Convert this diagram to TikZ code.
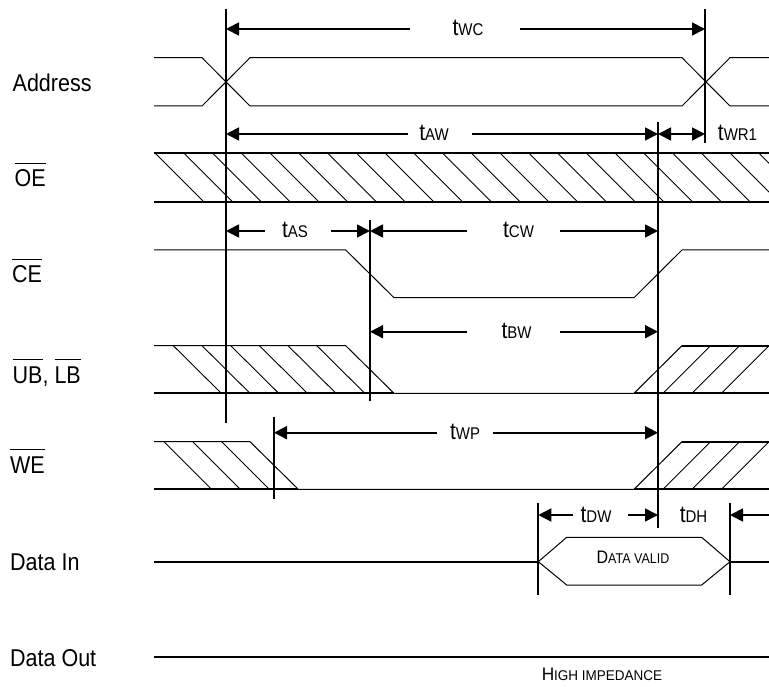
\documentclass[tikz,border=0pt]{standalone}
\usepackage{graphicx}
\usepackage{fontspec}
\setmainfont{Liberation Sans}
\usetikzlibrary{arrows.meta}
\newcommand\vs[1]{\scalebox{1}[1.13]{#1}}
\newcommand\tsub[1]{\vs{{\fontsize{21}{24}\selectfont t}{\fontsize{15}{18}\selectfont #1}}}
\newcommand\ovl[1]{\leavevmode\vbox{\hrule height 1.5pt\kern 6pt\hbox{\vs{#1}}}}
\newcommand\smc[2]{\vs{{\fontsize{16}{18}\selectfont #1}{\fontsize{12.5}{14}\selectfont #2}}}
\begin{document}
\begin{tikzpicture}[x=1pt,y=-1pt,
  thk/.style={line width=1.8pt},
  thn/.style={line width=1pt},
  hatch/.style={line width=0.9pt},
  dim/.style={line width=1.8pt,-{Triangle[length=13pt,width=13pt]}},
  dimboth/.style={line width=1.8pt,{Triangle[length=13pt,width=13pt]}-{Triangle[length=13pt,width=13pt]}},
  lbl/.style={anchor=base west,inner sep=0pt,font=\fontsize{21.5}{24}\selectfont},
  tlab/.style={anchor=base,inner sep=0pt},
  sclab/.style={anchor=base,inner sep=0pt}]
\useasboundingbox (0,0) rectangle (769,687);

% ---- signal labels
\node[lbl] (lAddr) at (12.5,91.5) {\vs{Address}};
\node[lbl] (lOE) at (14.5,187) {\ovl{OE}};
\node[lbl] (lCE) at (12,283) {\ovl{CE}};
\node[lbl] (lUB) at (12.5,383) {\ovl{UB}\vs{, }\ovl{LB}};
\node[lbl] (lWE) at (10,473) {\ovl{WE}};
\node[lbl] (lDI) at (10,570) {\vs{Data In}};
\node[lbl] (lDO) at (10,666) {\vs{Data Out}};

% ---- Address
\draw[thn] (154,57.7) -- (202,57.7) -- (250,106) -- (682,106) -- (730,57.7) -- (769,57.7);
\draw[thn] (154,106) -- (202,106) -- (250,57.7) -- (682,57.7) -- (730,106) -- (769,106);

% ---- OE
\begin{scope}
\clip (154,153) rectangle (769,201.7);
\foreach \k in {0,...,21} \draw[hatch] ({155+28.75*\k},153) -- ++(48.7,48.7);
\end{scope}
\draw[thk] (154,153) -- (769,153);
\draw[thk] (154,201.7) -- (769,201.7);

% ---- CE
\draw[thn] (154,250) -- (345.7,250) -- (394,297.7) -- (634,297.7) -- (682,250) -- (769,250);

% ---- UB, LB
\draw[thn] (154,345.7) -- (345.7,345.7) -- (394,393.3) -- (634,393.3) -- (682,345.7);
\draw[thk] (154,393.3) -- (394,393.3);
\foreach \x in {173.3,202,230.7,259.4,288,316.8} \draw[hatch] (\x,345.7) -- ++(48,47.6);
\draw[thk] (682,345.7) -- (769,345.7);
\draw[thk] (634,393.3) -- (769,393.3);
\foreach \x in {663,692,721.5} \draw[hatch] (\x,393.3) -- ++(47.6,-47.6);

% ---- WE
\draw[thn] (154,441.7) -- (250,441.7) -- (298.3,489.3) -- (634,489.3) -- (682,441.7);
\draw[thk] (154,489.3) -- (298.3,489.3);
\foreach \x in {164,192.7,221.7} \draw[hatch] (\x,441.7) -- ++(47.6,47.6);
\draw[thk] (682,441.7) -- (769,441.7);
\draw[thk] (634,489.3) -- (769,489.3);
\foreach \x in {663,692,721.5} \draw[hatch] (\x,489.3) -- ++(47.6,-47.6);

% ---- Data In
\draw[thk] (154,561.7) -- (538.3,561.7);
\draw[thk] (730,561.7) -- (769,561.7);
\draw[thn] (538.3,561.7) -- (566.7,537.3) -- (701.7,537.3) -- (730,561.7) -- (701.7,585) -- (566.7,585) -- cycle;
\node[sclab] (dv) at (633,563.3) {\smc{D}{ATA VALID}};

% ---- Data Out
\draw[thk] (154,656.7) -- (769,656.7);
\node[sclab] (hi) at (602,680.7) {\scalebox{1.08}[1]{\smc{H}{IGH IMPEDANCE}}};

% ---- reference verticals
\coordinate (A1) at (226,9);   \coordinate (A2) at (226,423);
\coordinate (B1) at (705,9);   \coordinate (B2) at (705,143);
\coordinate (C1) at (658,122); \coordinate (C2) at (658,528);
\coordinate (D1) at (370,220); \coordinate (D2) at (370,401);
\coordinate (E1) at (274,417); \coordinate (E2) at (274,499);
\coordinate (F1) at (538.3,503); \coordinate (F2) at (538.3,595);
\coordinate (G1) at (730,503); \coordinate (G2) at (730,595);
\foreach \a/\b in {A1/A2,B1/B2,C1/C2,D1/D2,E1/E2,F1/F2,G1/G2} \draw[thk] (\a) -- (\b);

% ---- timing dimensions
\node[tlab] (twc) at (468,35.5) {\tsub{WC}};
\draw[dim] (410,29) -- (226,29);
\draw[dim] (520,29) -- (705,29);

\node[tlab] (taw) at (434,141) {\tsub{AW}};
\draw[dim] (408,134) -- (226,134);
\draw[dim] (472,134) -- (658,134);

\draw[dimboth] (658,134) -- (705,134);
\node[tlab] (twr) at (737.5,141) {\tsub{WR1}};

\node[tlab] (tas) at (295,238) {\tsub{AS}};
\draw[dim] (265,231) -- (226,231);
\draw[dim] (331,231) -- (370,231);

\node[tlab] (tcw) at (518.5,238) {\tsub{CW}};
\draw[dim] (466.7,231) -- (370,231);
\draw[dim] (560,231) -- (658,231);

\node[tlab] (tbw) at (516.5,338.7) {\tsub{BW}};
\draw[dim] (466.7,331.7) -- (370,331.7);
\draw[dim] (560,331.7) -- (658,331.7);

\node[tlab] (twp) at (465,439.5) {\tsub{WP}};
\draw[dim] (436.7,432.7) -- (274,432.7);
\draw[dim] (493,432.7) -- (658,432.7);

\node[tlab] (tdw) at (596,522) {\tsub{DW}};
\draw[dim] (573,515) -- (538.3,515);
\draw[dim] (628,515) -- (658,515);

\node[tlab] (tdh) at (693.5,522) {\tsub{DH}};
\draw[dim] (769,515) -- (730,515);
\end{tikzpicture}
\end{document}
